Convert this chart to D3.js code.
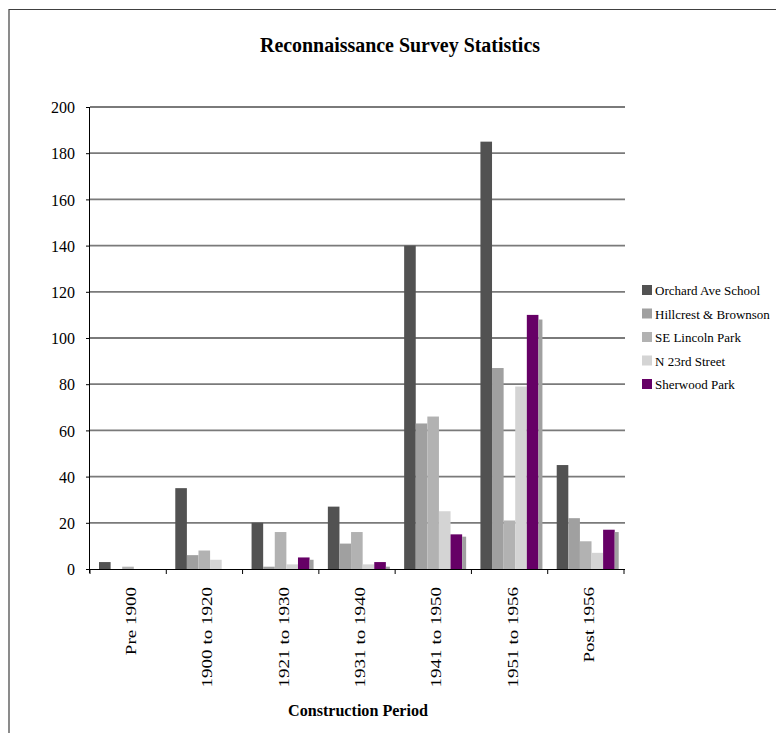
<!DOCTYPE html>
<html><head><meta charset="utf-8">
<script src="https://cdn.jsdelivr.net/npm/d3@7"></script>
<style>body{margin:0;background:#fff}svg{display:block}text{font-family:'Liberation Serif','Times New Roman',Times,serif}</style>
</head><body>
<svg id="c" width="776" height="733"></svg>
<script>
const categories = ["Pre 1900","1900 to 1920","1921 to 1930","1931 to 1940","1941 to 1950","1951 to 1956","Post 1956"];
const seriesNames = ["Orchard Ave School","Hillcrest & Brownson","SE Lincoln Park","N 23rd Street","Sherwood Park",""];
const orchard   = [3, 35, 20, 27, 140, 185, 45];
const hillcrest = [0, 6, 1, 11, 63, 87, 22];
const seLincoln = [1, 8, 16, 16, 66, 21, 12];
const n23rd     = [0, 4, 2, 2, 25, 79, 7];
const sherwood  = [0, 0, 5, 3, 15, 110, 17];
const unnamed   = [0, 0, 4, 1, 14, 108, 16];
const seriesValues = [orchard, hillcrest, seLincoln, n23rd, sherwood, unnamed];
const colors = ["#525252","#a0a0a0","#b2b2b2","#d4d4d4","#660066","#a0a0a0"];
const yTicks = [0,20,40,60,80,100,120,140,160,180,200];

const svg = d3.select("#c");
// frame
svg.append("path").attr("d","M9,733 V9.5 H776").attr("fill","none").attr("stroke","#404040").attr("stroke-width",1.2);

const L=90, R=624, T=107, B=569;
const x0 = d3.scaleBand().domain(categories).range([L,R]).padding(0);
const bw = x0.bandwidth();
const x1 = d3.scaleBand().domain(d3.range(6)).range([9, 9+6*11.6]).padding(0);
const y = d3.scaleLinear().domain([0,200]).range([B,T]);

// gridlines
svg.append("g").selectAll("line").data(yTicks.filter(d=>d>0)).join("line")
  .attr("x1",L).attr("x2",R+1).attr("y1",d=>y(d)).attr("y2",d=>y(d))
  .attr("stroke","#7a7a7a").attr("stroke-width",1.8);

// bars
const g = svg.append("g");
seriesValues.forEach((vals,si)=>{
  g.append("g").selectAll("rect").data(vals).join("rect")
    .attr("x",(d,i)=>x0(categories[i])+x1(si))
    .attr("width", si===5 ? 4 : x1.bandwidth())
    .attr("y",d=>y(d)).attr("height",d=>B-y(d))
    .attr("fill",colors[si]);
});

// y axis
const ya = svg.append("g").attr("transform",`translate(${L},0)`)
  .call(d3.axisLeft(y).tickValues(yTicks).tickSize(4).tickPadding(11));
ya.attr("font-family",null).attr("font-size",null);
ya.select(".domain").attr("stroke","#000").attr("d",`M-0.5,${T}V${B+4}`);
ya.selectAll("line").attr("stroke","#000");
ya.selectAll("text").attr("font-size",16).attr("fill","#000").attr("dy","0.35em");

// x axis
const xa = svg.append("g").attr("transform",`translate(0,${B})`);
xa.append("line").attr("x1",L).attr("x2",R+1).attr("y1",0.5).attr("y2",0.5).attr("stroke","#000");
xa.selectAll("line.t").data(d3.range(categories.length+1)).join("line").attr("class","t")
  .attr("x1",i=>L+i*bw).attr("x2",i=>L+i*bw).attr("y1",0).attr("y2",5).attr("stroke","#000");
xa.selectAll("text").data(categories).join("text")
  .attr("transform",d=>`translate(${x0(d)+bw/2+8},18) rotate(-90) scale(1.27,1)`)
  .attr("text-anchor","end").attr("font-size",15).text(d=>d);

// titles
svg.append("text").attr("x",400).attr("y",52).attr("text-anchor","middle")
  .attr("font-weight","bold").attr("font-size",20)
  .attr("textLength",280).attr("lengthAdjust","spacingAndGlyphs")
  .text("Reconnaissance Survey Statistics");
svg.append("text").attr("x",358).attr("y",716).attr("text-anchor","middle")
  .attr("font-weight","bold").attr("font-size",17)
  .attr("textLength",140).attr("lengthAdjust","spacingAndGlyphs")
  .text("Construction Period");

// legend
const lg = svg.append("g").attr("transform","translate(642,285)");
seriesNames.slice(0,5).forEach((n,i)=>{
  lg.append("rect").attr("x",0).attr("y",i*23.5).attr("width",10).attr("height",10).attr("fill",colors[i]);
  lg.append("text").attr("x",13).attr("y",i*23.5+10).attr("font-size",13).text(n);
});
</script>
</body></html>
